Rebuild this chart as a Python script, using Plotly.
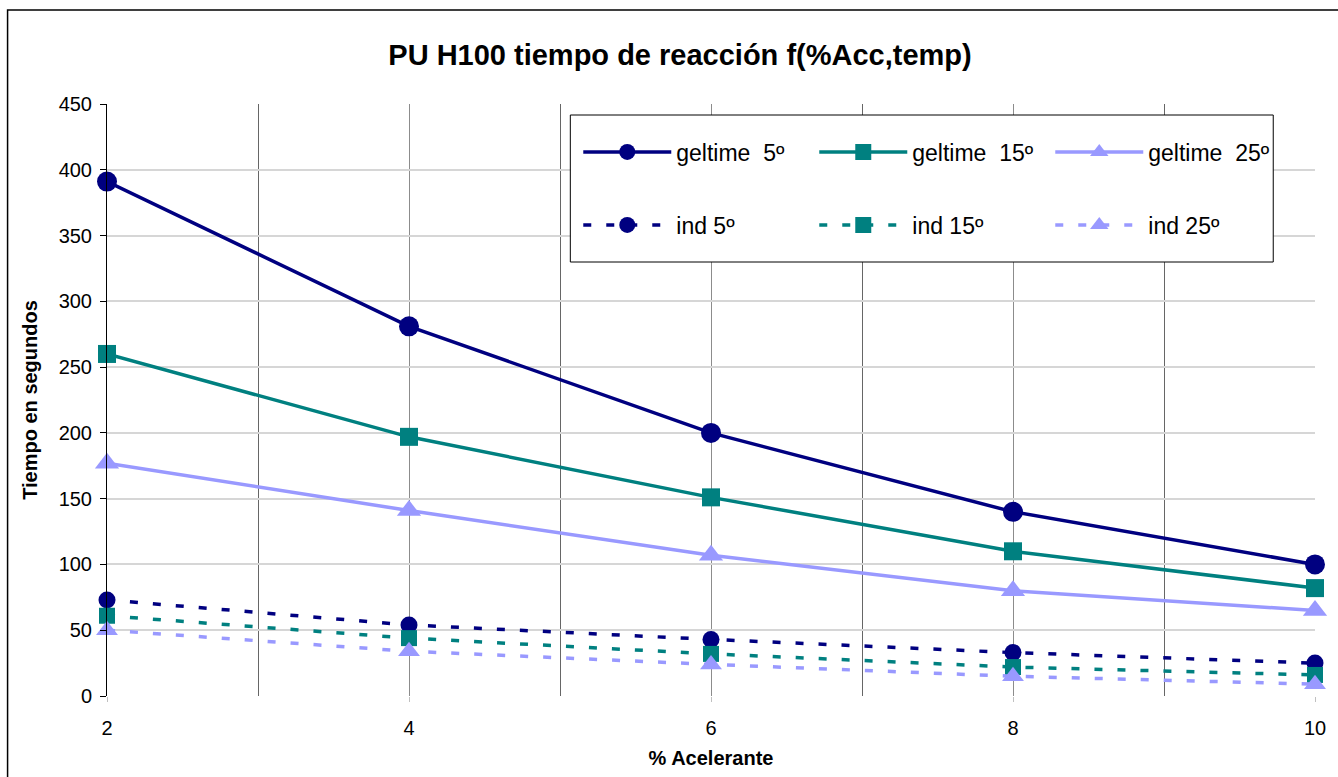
import plotly.graph_objects as go

acelerante = [2, 4, 6, 8, 10]
geltime_5 = [391, 281, 200, 140, 100]
geltime_15 = [260, 197, 151, 110, 82]
geltime_25 = [177, 141, 107, 80, 65]
ind_5 = [73, 54, 43, 33, 25]
ind_15 = [61, 44, 32, 22, 16]
ind_25 = [50, 34, 24, 15, 9]

names_gel = ["geltime\u00a0 5º", "geltime\u00a0 15º", "geltime\u00a0 25º"]
names_ind = ["ind 5º", "ind 15º", "ind 25º"]
colors = ["#000080", "#008080", "#9999FF"]
symbols = ["circle", "square", "triangle-up"]
gel_sizes = [20, 18, 21]
ind_sizes = [17, 16, 19]

FONT = "Liberation Sans, Arial, sans-serif"

fig = go.Figure()
for name, ys, c, s, ms in zip(names_gel, [geltime_5, geltime_15, geltime_25], colors, symbols, gel_sizes):
    fig.add_trace(go.Scatter(
        x=acelerante, y=ys, name=name, mode="lines+markers",
        line=dict(color=c, width=3.5),
        marker=dict(color=c, symbol=s, size=ms),
        cliponaxis=False, legend="legend",
    ))
for name, ys, c, s, ms in zip(names_ind, [ind_5, ind_15, ind_25], colors, symbols, ind_sizes):
    fig.add_trace(go.Scatter(
        x=acelerante, y=ys, name=name, mode="lines+markers",
        line=dict(color=c, width=3.5, dash="8px,15px"),
        marker=dict(color=c, symbol=s, size=ms),
        cliponaxis=False, legend="legend2",
    ))

# body margin is removed by post_script, so figure pixels == page pixels
W, H = 1338, 777
PL, PR, PT, PB = 107, 1322, 104, 696          # plot area in page pixels
L, T, R, B = PL, PT, W - PR, H - PB
pw, ph = PR - PL, PB - PT

def px_x(p):
    return (p - PL) / pw

def px_y(p):
    return (PB - p) / ph

legend_common = dict(
    orientation="h", xanchor="left", yanchor="middle",
    bgcolor="rgba(0,0,0,0)", borderwidth=0,
    font=dict(family=FONT, size=23, color="#000000"),
    itemwidth=88, entrywidth=133, traceorder="normal",
)

fig.update_layout(
    width=W, height=H,
    margin=dict(l=L, r=R, t=T, b=B),
    paper_bgcolor="white", plot_bgcolor="white",
    font=dict(family=FONT, color="#000000"),
    title=dict(
        text="<b>PU H100 tiempo de reacción f(%Acc,temp)</b>",
        x=680 / W, xanchor="center", y=1 - 55 / H, yanchor="middle",
        font=dict(family=FONT, size=29, color="#000000"),
    ),
    legend=dict(x=px_x(581), y=px_y(152), **legend_common),
    legend2=dict(x=px_x(581), y=px_y(225), **legend_common),
    xaxis=dict(
        range=[2, 10], tickvals=acelerante, ticktext=[str(v) for v in acelerante],
        showgrid=True, gridcolor="#8c8c8c", gridwidth=1,
        minor=dict(tickvals=[3, 5, 7, 9], showgrid=True, gridcolor="#666666", gridwidth=1, ticks=""),
        zeroline=False, showline=False,
        ticks="outside", ticklen=5, tickcolor="#c0c0c0", tickwidth=1,
        tickfont=dict(family=FONT, size=20, color="#000000"),
        ticklabelstandoff=9,
        title=dict(text="<b>% Acelerante</b>", font=dict(family=FONT, size=20, color="#000000"), standoff=12),
    ),
    yaxis=dict(
        range=[0, 450], dtick=50, tick0=0,
        showgrid=True, gridcolor="#d6d6d6", gridwidth=1.5,
        zeroline=False, showline=True, linecolor="#000000", linewidth=1,
        ticks="outside", ticklen=6, tickcolor="#000000", tickwidth=1,
        tickfont=dict(family=FONT, size=20, color="#000000"),
        ticklabelstandoff=4,
        title=dict(text="<b>Tiempo en segundos</b>", font=dict(family=FONT, size=20, color="#000000"), standoff=15),
    ),
    shapes=[
        dict(type="rect", xref="paper", yref="paper",
             x0=px_x(573), x1=px_x(1280), y0=px_y(262), y1=px_y(115),
             fillcolor="white", line=dict(color="#000000", width=1), layer="above"),
        dict(type="rect", xref="paper", yref="paper",
             x0=px_x(7), x1=px_x(1360), y0=px_y(800), y1=px_y(10),
             fillcolor="rgba(0,0,0,0)", line=dict(color="#000000", width=1.5), layer="above"),
    ],
)

fig.write_html(
    "out.html",
    config={"displayModeBar": False},
    post_script="document.body.style.margin='0px';document.body.style.overflow='hidden';",
)
